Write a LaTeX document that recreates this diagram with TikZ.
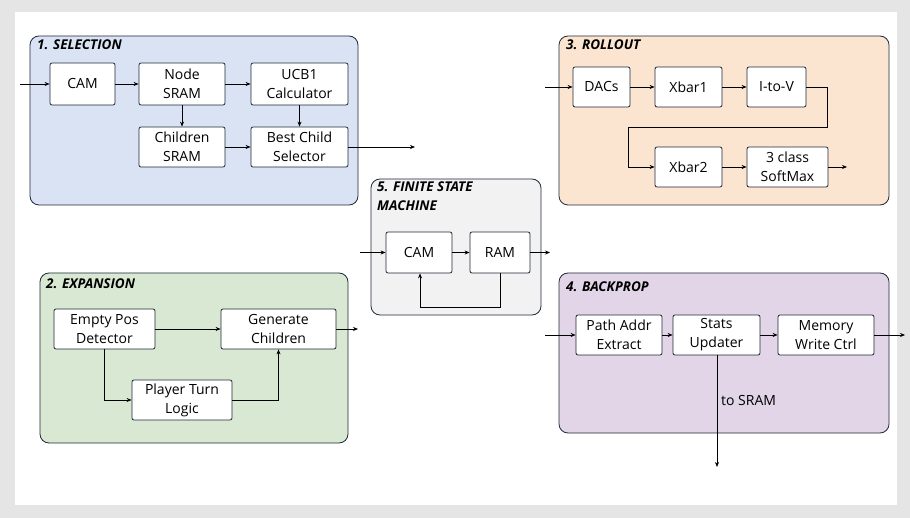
\documentclass[tikz,border=0pt]{standalone}
\usepackage{fontspec}
\setmainfont{Open Sans}
\usetikzlibrary{arrows.meta}
\definecolor{selc}{HTML}{DAE3F3}
\definecolor{fsmc}{HTML}{F2F2F2}
\definecolor{expc}{HTML}{D9E8D3}
\definecolor{rolc}{HTML}{FBE5D0}
\definecolor{bpc}{HTML}{E1D5E7}
\definecolor{edge}{HTML}{1F2A38}
\tikzset{
 grp/.style={draw=edge,line width=0.8pt,rounded corners=9pt},
 blk/.style={draw=edge,fill=white,line width=0.8pt,rounded corners=2pt,align=center,font=\fontsize{14}{19}\selectfont,inner sep=0pt},
 ttl/.style={anchor=north west,font=\fontsize{13.5}{19}\selectfont\bfseries\itshape,align=left,inner sep=0pt},
 arr/.style={-{Stealth[length=5pt,width=4pt]},line width=0.7pt},
}
\newcommand{\bx}[6]{\node[blk,minimum width=#4-#2,minimum height=#5-#3] (#1) at ({(#2+#4)/2},{(#3+#5)/2}) {#6};}
\begin{document}
\begin{tikzpicture}[x=1pt,y=-1pt]
\fill[gray!20] (0,0) rectangle (910,518);
\fill[white] (15,12) rectangle (897,505);
\useasboundingbox (0,0) rectangle (910,518);
% groups
\draw[grp,fill=selc] (30,36) rectangle (358,205);
\node[ttl] (t1) at (37,40) {1. SELECTION};
\draw[grp,fill=fsmc] (371,179) rectangle (541,315);
\node[ttl] (t5) at (377,182) {5. FINITE STATE\\MACHINE};
\draw[grp,fill=expc] (40,273) rectangle (348,443);
\node[ttl] (t2) at (46,279) {2. EXPANSION};
\draw[grp,fill=rolc] (559,36) rectangle (889,205);
\node[ttl] (t3) at (566,40) {3. ROLLOUT};
\draw[grp,fill=bpc] (559,273) rectangle (889,433);
\node[ttl] (t4) at (566,282) {4. BACKPROP};
% selection
\bx{cam}{50}{63}{115}{105}{CAM}
\bx{nsram}{139}{63}{225}{105}{Node\\SRAM}
\bx{ucb}{251}{63}{348}{105}{UCB1\\Calculator}
\bx{csram}{139}{127}{225}{167}{Children\\SRAM}
\bx{best}{251}{127}{348}{167}{Best Child\\Selector}
\coordinate (sin) at (20,84);
\coordinate (sout) at (415,147);
\draw[arr] (sin) -- (cam);
\draw[arr] (cam) -- (nsram);
\draw[arr] (nsram) -- (ucb);
\draw[arr] (nsram) -- (csram);
\draw[arr] (ucb) -- (best);
\draw[arr] (csram) -- (best);
\draw[arr] (best) -- (sout);
% fsm
\bx{fcam}{386}{232}{452}{273}{CAM}
\bx{fram}{470}{232}{530}{273}{RAM}
\coordinate (fin) at (360,252.5);
\coordinate (fout) at (550,252.5);
\draw[arr] (fin) -- (fcam);
\draw[arr] (fcam) -- (fram);
\draw[arr] (fram) -- (fout);
\draw[arr] (fram.south) -- ++(0,34) -| (fcam.south -| 420,0);
% expansion
\bx{empty}{54}{309}{155}{349}{Empty Pos\\Detector}
\bx{gen}{221}{309}{336}{349}{Generate\\Children}
\bx{ptl}{132}{380}{232}{420}{Player Turn\\Logic}
\coordinate (eout) at (358,329);
\draw[arr] (empty) -- (gen);
\draw[arr] (empty.south) |- (ptl.west);
\draw[arr] (ptl.east) -| (gen.south);
\draw[arr] (gen) -- (eout);
% rollout
\bx{dac}{573}{67}{630}{107}{DACs}
\bx{xb1}{655}{67}{722}{107}{Xbar1}
\bx{itv}{747}{67}{806}{107}{I-to-V}
\bx{xb2}{655}{147}{722}{187}{Xbar2}
\bx{smax}{747}{147}{828}{187}{3 class\\SoftMax}
\coordinate (rin) at (545,87);
\coordinate (rout) at (847,167);
\draw[arr] (rin) -- (dac);
\draw[arr] (dac) -- (xb1);
\draw[arr] (xb1) -- (itv);
\draw[arr] (itv.east) -- (827,87) -- (827,127) -- (628,127) |- (xb2.west);
\draw[arr] (xb2) -- (smax);
\draw[arr] (smax) -- (rout);
% backprop
\bx{path}{576}{315}{662}{355}{Path Addr\\Extract}
\bx{stats}{673}{315}{760}{355}{Stats\\Updater}
\bx{mem}{778}{315}{874}{355}{Memory\\Write Ctrl}
\coordinate (bin) at (545,335);
\coordinate (bout) at (905,335);
\coordinate (bdown) at (717,467);
\draw[arr] (bin) -- (path);
\draw[arr] (path) -- (stats);
\draw[arr] (stats) -- (mem);
\draw[arr] (mem) -- (bout);
\draw[arr] (stats.south -| bdown) -- (bdown);
\node[anchor=west,font=\fontsize{14}{17}\selectfont,inner sep=0pt] (tosram) at (721,400) {to SRAM};
\end{tikzpicture}
\end{document}
